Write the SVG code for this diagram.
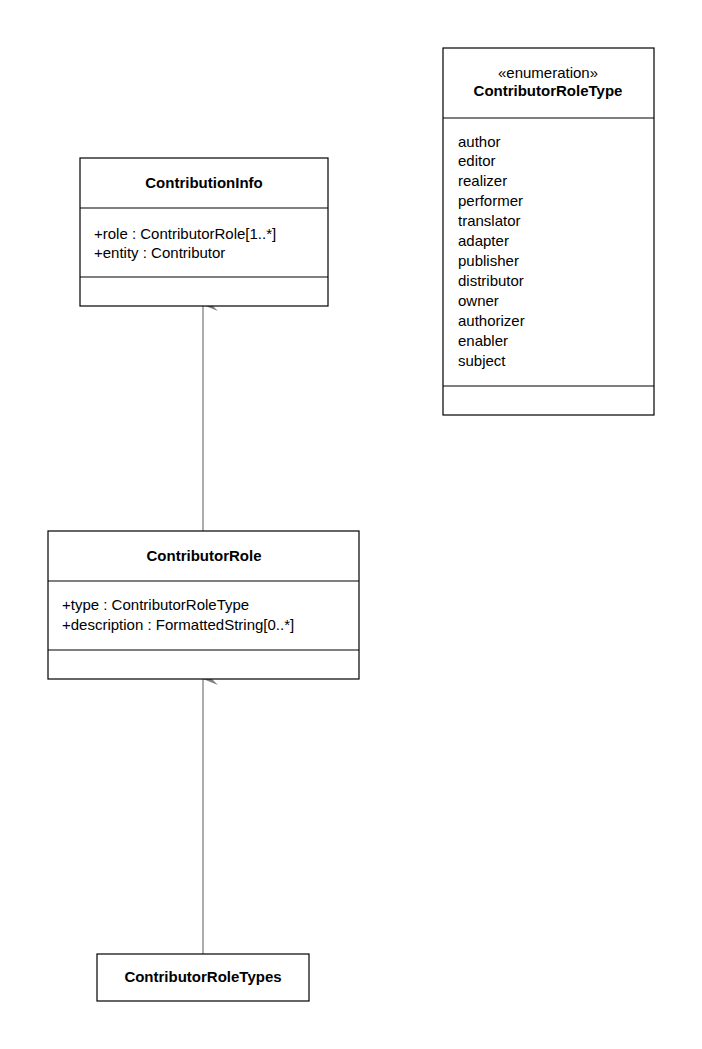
<svg xmlns="http://www.w3.org/2000/svg" width="702" height="1049" viewBox="0 0 702 1049">
<style>
.box{fill:#fff;stroke:#000;stroke-width:1.2}
.t{font-family:"Liberation Sans",Arial,sans-serif;font-size:15px;fill:#000}
.b{font-weight:bold;text-anchor:middle}
.c{text-anchor:middle}
.edge{stroke:#808080;stroke-width:1.3;fill:none}
</style>
<defs>
<marker id="ah" viewBox="0 0 14 20" refX="7" refY="1" markerWidth="14" markerHeight="20" markerUnits="userSpaceOnUse" orient="auto-start-reverse">
<path d="M1,16 L7,1 L13,16 L7,10 Z" fill="#808080"/>
</marker>
</defs>
<rect width="702" height="1049" fill="#fff"/>
<g id="connectors">
<path class="edge" d="M203,531 V305" marker-end="url(#ah)"/>
<path class="edge" d="M203,954 V679" marker-end="url(#ah)"/>
</g>
<g id="ContributorRoleType">
<rect class="box" x="443" y="48" width="211" height="367"/>
<line class="box" x1="443" y1="118" x2="654" y2="118"/>
<line class="box" x1="443" y1="386" x2="654" y2="386"/>
<text class="t c" x="548" y="78">«enumeration»</text>
<text class="t b" x="548" y="96">ContributorRoleType</text>
<text class="t" x="458" y="147">author</text>
<text class="t" x="458" y="166">editor</text>
<text class="t" x="458" y="186">realizer</text>
<text class="t" x="458" y="206">performer</text>
<text class="t" x="458" y="226">translator</text>
<text class="t" x="458" y="246">adapter</text>
<text class="t" x="458" y="266">publisher</text>
<text class="t" x="458" y="286">distributor</text>
<text class="t" x="458" y="306">owner</text>
<text class="t" x="458" y="326">authorizer</text>
<text class="t" x="458" y="346">enabler</text>
<text class="t" x="458" y="366">subject</text>
</g>
<g id="ContributionInfo">
<rect class="box" x="80" y="158" width="248" height="148"/>
<line class="box" x1="80" y1="208" x2="328" y2="208"/>
<line class="box" x1="80" y1="277" x2="328" y2="277"/>
<text class="t b" x="204" y="188">ContributionInfo</text>
<text class="t" x="94" y="239">+role : ContributorRole[1..*]</text>
<text class="t" x="94" y="258">+entity : Contributor</text>
</g>
<g id="ContributorRole">
<rect class="box" x="48" y="531" width="311" height="148"/>
<line class="box" x1="48" y1="581" x2="359" y2="581"/>
<line class="box" x1="48" y1="650" x2="359" y2="650"/>
<text class="t b" x="204" y="561">ContributorRole</text>
<text class="t" x="62" y="610">+type : ContributorRoleType</text>
<text class="t" x="62" y="630">+description : FormattedString[0..*]</text>
</g>
<g id="ContributorRoleTypes">
<rect class="box" x="97" y="954" width="212" height="47"/>
<text class="t b" x="203" y="982">ContributorRoleTypes</text>
</g>
</svg>
